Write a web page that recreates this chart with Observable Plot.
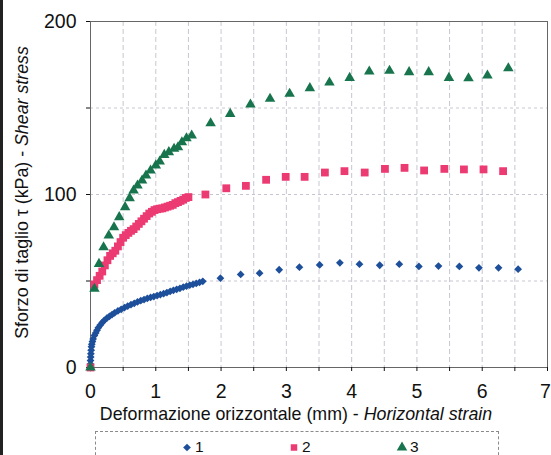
<!DOCTYPE html>
<html><head><meta charset="utf-8">
<script src="https://cdn.jsdelivr.net/npm/d3@7"></script>
<script src="https://cdn.jsdelivr.net/npm/@observablehq/plot@0.6"></script>
<style>
body{margin:0;background:#fff;font-family:"Liberation Sans",Arial,sans-serif;}
#chart{position:relative;width:551px;height:455px;overflow:hidden;background:#fff}
#edge{position:absolute;left:0;top:0;width:3px;height:455px;background:#222}
#legend{position:absolute;left:95px;top:431px;width:404px;height:40px;border:1px dashed #8a8a8a;box-sizing:border-box}
.item{position:absolute;top:6px;font-size:15.5px;line-height:18px;color:#111;display:flex;align-items:center}
.item svg{margin-right:2px}
</style></head><body><div id="chart"><div id="edge"></div></div>
<script>
// Series 1 (blue diamonds)
const series1 = [
 [0,0],[0,2],[0,4],[0.003,6],[0.006,8],[0.01,10],[0.015,12],[0.02,13.5],[0.03,15],[0.04,16.5],
 [0.06,18.5],[0.08,20],[0.1,21.5],[0.12,23],[0.15,24.5],[0.18,26],[0.21,27.2],[0.25,28.5],[0.29,29.6],
 [0.33,30.6],[0.37,31.6],[0.42,32.7],[0.47,33.6],[0.52,34.6],[0.57,35.5],[0.62,36.3],[0.67,37.1],
 [0.72,37.9],[0.77,38.6],[0.82,39.3],[0.87,39.9],[0.92,40.5],[0.97,41.0],[1.02,41.6],[1.07,42.1],
 [1.12,42.7],[1.17,43.3],[1.22,44.0],[1.27,44.6],[1.32,45.2],[1.37,45.8],[1.42,46.4],[1.47,47.0],
 [1.52,47.6],[1.57,48.1],[1.62,48.6],[1.67,49.2],[1.72,49.8],
 [1.99,51.6],[2.30,53.8],[2.59,54.5],[2.89,56.5],[3.20,58.0],[3.51,59.3],[3.82,60.5],[4.12,59.7],
 [4.43,59.1],[4.73,59.7],[5.03,58.4],[5.33,58.6],[5.65,58.4],[5.95,57.6],[6.25,57.6],[6.55,56.8]
];
// Series 2 (pink squares)
const series2 = [
 [0,0],[0.06,48],[0.1,50.5],[0.14,53],[0.18,55.5],[0.22,59],[0.26,62],[0.30,64.5],[0.34,66],
 [0.38,67.5],[0.42,70],[0.46,72.5],[0.50,75],[0.54,76.5],[0.58,77.8],[0.62,79],[0.66,80],[0.70,81.5],
 [0.74,83],[0.78,84.5],[0.82,86],[0.86,87.5],[0.90,89],[0.94,90],[0.98,91],[1.02,91.5],[1.06,91.8],
 [1.10,92],[1.14,92.5],[1.18,93],[1.22,93.5],[1.26,94],[1.30,95],[1.34,95.6],[1.38,96.3],[1.42,97],
 [1.46,98],[1.50,98.5],
 [1.76,100.0],[2.08,103.6],[2.38,105],[2.69,108.5],[2.99,110.2],[3.28,110.2],[3.59,112.7],[3.89,113.5],
 [4.20,112.7],[4.51,114.8],[4.81,115.4],[5.11,113.9],[5.42,114.8],[5.72,114.5],[6.02,114.5],[6.32,113.5]
];
// Series 3 (green triangles)
const series3 = [
 [0,0],[0.06,45.5],[0.13,59.9],[0.20,69.5],[0.28,76.3],[0.36,81.1],[0.44,86.9],[0.53,92.7],[0.60,97.9],
 [0.66,102.3],[0.72,105.2],[0.79,108.1],[0.85,111.0],[0.92,113.9],[1.00,116.8],[1.06,119.1],[1.13,122.9],
 [1.20,124.5],[1.28,126.4],[1.34,127.3],[1.40,130.2],[1.47,132.5],[1.55,134.1],
 [1.84,141.2],[2.14,146.6],[2.45,152.0],[2.75,155.3],[3.05,158.2],[3.36,161.5],[3.66,164.7],[3.97,167.4],
 [4.27,171.1],[4.58,171.5],[4.88,170.7],[5.18,170.7],[5.49,167.4],[5.79,167.2],[6.08,168.8],[6.40,173.0]
];
const seriesNames = ["1","2","3"];
const seriesColors = ["#1d4f9a","#ec3a73","#17744c"];
const seriesSymbols = ["diamond2","square","triangle"];
const seriesR = [3.5,4.4,3.9];
const xTickLabels = [0,1,2,3,4,5,6,7];
const yTickLabels = [0,100,200];
const xLabel = ["Deformazione orizzontale (mm) - ","Horizontal strain"];
const yLabel = ["Sforzo di taglio τ (kPa) - ","Shear stress"];

const allSeries = [series1, series2, series3];
const xMinor = d3.range(0, 7.01, 0.5);
const yMinor = d3.range(0, 200.1, 50);

const plot = Plot.plot({
  width: 551, height: 425,
  marginLeft: 90, marginRight: 4, marginTop: 21, marginBottom: 58,
  style: {fontFamily: "Liberation Sans, Arial, sans-serif", background: "transparent", color: "#111"},
  x: {domain: [0, 7]},
  y: {domain: [0, 200]},
  marks: [
    Plot.gridX({ticks: xMinor.filter(d => d > 0 && d < 7), stroke: "#a0a0b4", strokeOpacity: 0.6, strokeDasharray: "5,3"}),
    Plot.gridY({ticks: [50, 100, 150], stroke: "#a0a0b4", strokeOpacity: 0.6, strokeDasharray: "3,3"}),
    Plot.frame({stroke: "#666"}),
    Plot.axisX({ticks: xMinor, tickSize: 4, tickPadding: 13, fontSize: 19.5, label: null,
      tickFormat: d => xTickLabels.includes(d) ? String(d) : ""}),
    Plot.axisY({ticks: yMinor, tickSize: 4, tickPadding: 10, fontSize: 19.5, label: null,
      tickFormat: d => yTickLabels.includes(d) ? String(d) : ""}),
    ...allSeries.map((s, i) => Plot.dot(s, {
      x: d => d[0], y: d => d[1], symbol: () => seriesSymbols[i], r: seriesR[i],
      fill: seriesColors[i], stroke: "none"
    }))
  ]
});

const svg = d3.select(plot);
// keep the last x tick label ("7") inside the window
svg.selectAll("text").filter(function() { return this.textContent === "7"; }).attr("dx", -2);

const yl = svg.append("text")
  .attr("transform", "translate(22,192.5) rotate(-90)")
  .attr("text-anchor", "middle").attr("dominant-baseline", "central")
  .attr("font-size", 17.8).attr("fill", "#111");
yl.append("tspan").text(yLabel[0]);
yl.append("tspan").attr("font-style", "italic").text(yLabel[1]);
const xl = svg.append("text")
  .attr("x", 296).attr("y", 420)
  .attr("text-anchor", "middle")
  .attr("font-size", 17.8).attr("fill", "#111");
xl.append("tspan").text(xLabel[0]);
xl.append("tspan").attr("font-style", "italic").text(xLabel[1]);

const chart = document.getElementById("chart");
chart.appendChild(plot);
plot.style.position = "absolute"; plot.style.left = "0"; plot.style.top = "0";

// legend
const legend = document.createElement("div");
legend.id = "legend";
chart.appendChild(legend);
const itemLeft = [85, 192, 300];
seriesNames.forEach((name, i) => {
  const it = d3.select(legend).append("div").attr("class", "item").style("left", itemLeft[i] + "px");
  const s = it.append("svg").attr("width", 12).attr("height", 12);
  const sym = {diamond2: d3.symbolDiamond2, square: d3.symbolSquare, triangle: d3.symbolTriangle}[seriesSymbols[i]];
  s.append("path").attr("transform", "translate(6,6.5)")
    .attr("d", d3.symbol(sym, [38, 42, 48][i])())
    .attr("fill", seriesColors[i]);
  it.append("span").text(name);
});
</script>
</body></html>
